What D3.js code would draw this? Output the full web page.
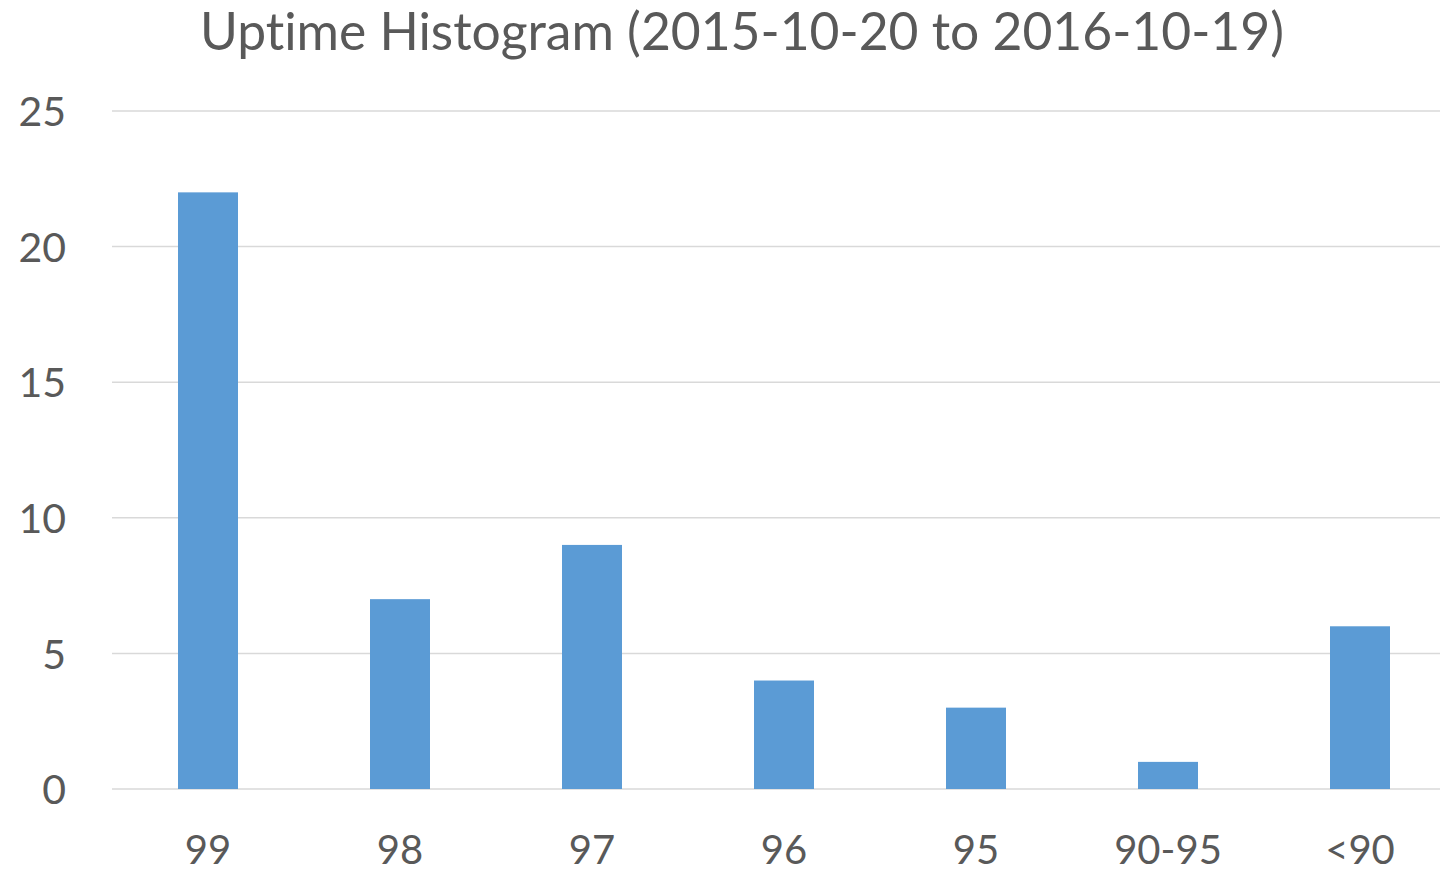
<!DOCTYPE html>
<html>
<head>
<meta charset="utf-8">
<script src="https://cdn.jsdelivr.net/npm/d3@7"></script>
<style>
  html, body { margin: 0; padding: 0; background: #fff; overflow: hidden; }
  svg { display: block; }
  text { font-variant-ligatures: none; font-feature-settings: "liga" 0, "clig" 0; }
</style>
</head>
<body>
<svg id="chart" width="1440" height="873"></svg>
<script>
const categories = ["99", "98", "97", "96", "95", "90-95", "<90"];
const counts = [22, 7, 9, 4, 3, 1, 6];
const yTicks = [0, 5, 10, 15, 20, 25];
const title = "Uptime Histogram (2015-10-20 to 2016-10-19)";

const FONT = "Lato, 'Open Sans', sans-serif";
const TEXT = "#595959";
const svg = d3.select("#chart");

const plotLeft = 112, plotRight = 1456, plotTop = 111, plotBottom = 789;

const x = d3.scaleBand().domain(categories).range([plotLeft, plotRight]).paddingInner(0.6875).paddingOuter(0.34375);
const y = d3.scaleLinear().domain([0, 25]).range([plotBottom, plotTop]);

// gridlines
svg.append("g").selectAll("line").data(yTicks).join("line")
  .attr("x1", plotLeft).attr("x2", plotRight)
  .attr("y1", d => y(d)).attr("y2", d => y(d))
  .attr("stroke", "#d9d9d9").attr("stroke-width", 1.5);

// bars
svg.append("g").selectAll("rect").data(counts).join("rect")
  .attr("x", (d, i) => x(categories[i]))
  .attr("width", x.bandwidth())
  .attr("y", d => y(d))
  .attr("height", d => y(0) - y(d))
  .attr("fill", "#5b9bd5");

// y axis
const yAxis = d3.axisLeft(y).tickValues(yTicks).tickSize(0).tickPadding(0);
const gy = svg.append("g").attr("transform", `translate(66,0)`).call(yAxis);
gy.select(".domain").remove();
gy.selectAll("text").attr("font-family", FONT).attr("font-size", 41).attr("fill", TEXT).attr("dy", "0.36em");

// x axis
const xAxis = d3.axisBottom(x).tickSize(0).tickPadding(0);
const gx = svg.append("g").attr("transform", `translate(0,${plotBottom})`).call(xAxis);
gx.select(".domain").remove();
gx.selectAll("text").attr("font-family", FONT).attr("font-size", 40).attr("fill", TEXT).attr("dy", "0").attr("y", 75);

// title
const t = svg.append("text").attr("x", 742).attr("y", 50).attr("text-anchor", "middle")
  .attr("font-family", FONT).attr("font-size", 48).attr("fill", TEXT).text(title);
const w = t.node().getComputedTextLength();
t.attr("font-size", 48 * 1084 / w);
</script>
</body>
</html>
